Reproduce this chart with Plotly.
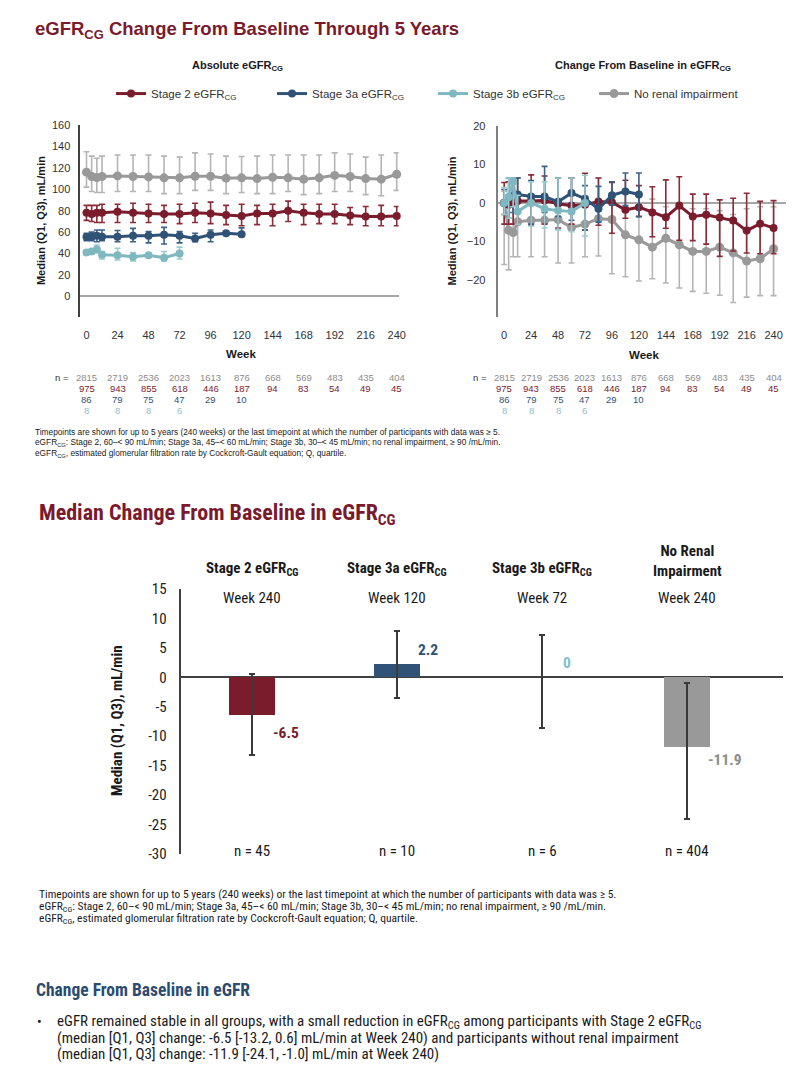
import plotly.graph_objects as go
import numpy as np

# ---------------- DATA ----------------
weeks = [0, 4, 8, 12, 24, 36, 48, 60, 72, 84, 96, 108, 120, 132, 144, 156, 168, 180, 192, 204, 216, 228, 240]
n_weeks = [0, 24, 48, 72, 96, 120, 144, 168, 192, 216, 240]
x_ticks = [0, 24, 48, 72, 96, 120, 144, 168, 192, 216, 240]

series_names = ["Stage 2 eGFR<sub>CG</sub>", "Stage 3a eGFR<sub>CG</sub>",
                "Stage 3b eGFR<sub>CG</sub>", "No renal impairment"]

# Absolute eGFRCG (median, Q1, Q3)
abs_s2_med = [78, 77, 78, 78, 79, 78, 77.5, 77, 77, 78, 77.5, 76, 75, 77.5, 77.5, 80, 78, 77, 77, 75.5, 74.5, 74.5, 75]
abs_s2_q1 = [71, 70, 69, 69, 69, 69, 69, 69, 68, 69, 68, 67, 66, 67, 66, 70, 67, 68, 68, 67, 66, 66, 66]
abs_s2_q3 = [85, 85, 85, 86, 86, 87, 86, 85, 86, 87, 88, 85, 86, 85, 86, 89, 86, 86, 86, 83, 84, 85, 84]

abs_s3a_med = [55.5, 55.7, 56.6, 55.8, 55.7, 56.6, 56.6, 57.5, 56.6, 54.1, 57.5, 59, 58.1]
abs_s3a_q1 = [52, 52, 51, 52, 51, 51, 50, 49, 50, 51, 51, 57, 56]
abs_s3a_q3 = [59, 60, 62, 62, 61.5, 63.5, 60.6, 64.5, 60.6, 59, 62, 60, 64]

abs_s3b_med = [41, 42, 43.7, 38.8, 38.5, 37, 38.5, 36.1, 40]
abs_s3b_q1 = [39, 40, 41, 35, 34, 33, 37, 33, 35]
abs_s3b_q3 = [42, 44, 48, 42, 45, 41, 40, 42, 46]

abs_nri_med = [116, 112, 111, 112, 112.5, 112, 111.6, 110.7, 110.7, 112.2, 112.2, 110.4, 110.7, 110, 111.3, 110.7, 109.5, 110.7, 113, 112, 110, 109.5, 114]
abs_nri_q1 = [102, 98, 97, 97, 98, 98, 98, 96, 96, 99, 99, 96, 97, 96, 96, 98, 95, 96, 98, 98, 95, 94, 99]
abs_nri_q3 = [135, 131, 129, 131, 132, 132, 132, 131, 130, 134, 133, 131, 130.6, 131, 132, 132, 132, 132, 134, 133, 130, 132, 134]

# Change from baseline in eGFRCG (median, Q1, Q3)
chg_s2_med = [0, -0.5, 0.3, 0.5, 0.5, 0.6, -0.2, -0.7, -0.5, 0.4, 0.2, -1.8, -1.1, -2.5, -3.7, -0.7, -3.5, -3.1, -3.8, -4.6, -7.2, -5.4, -6.5]
chg_s2_q1 = [-5.5, -5.5, -5.5, -5.5, -5.8, -5.5, -6.5, -5.5, -7, -5.8, -7.9, -4, -3.5, -8.8, -6.6, -9.7, -9.8, -10.7, -13.9, -12.5, -13, -13.2, -13.2]
chg_s2_q3 = [5.3, 5.5, 6.5, 6.5, 7.3, 7.0, 6.5, 6.5, 7.7, 6.5, 5.3, 5.9, 4.5, 4.2, 6.0, 6.8, 2.3, 2.3, 0.8, 1.2, 2.5, 0.4, 0.6]

chg_s3a_med = [0, 1.5, 2.0, 2.2, 1.7, 1.7, 0.3, 2.6, 1.1, -1.5, 2.0, 3.0, 2.2]
chg_s3a_q1 = [-3, -4, -2.5, -2, -5.5, -2.5, -3.5, -4.5, -7, -5, -0.5, -0.7, -3.6]
chg_s3a_q3 = [3.5, 6.5, 6.5, 6.5, 5.8, 9.5, 6.5, 6.5, 4.5, 4.3, 5.5, 7.8, 7.8]

chg_s3b_med = [0, 1.5, 5.5, -2.2, 0, -1.5, -2.0, -2.2, 0]
chg_s3b_q1 = [-3, -4, -1, -5.5, -6, -6.5, -7, -7.5, -8.6]
chg_s3b_q3 = [4, 6.5, 6.5, 2, 5.5, 5.5, 6.5, 6.5, 7.2]

chg_nri_med = [0, -7.1, -7.7, -4.9, -4.5, -4.5, -4.3, -6.4, -5.5, -4.1, -4.3, -8.3, -9.6, -11.5, -9.2, -10.9, -12.6, -12.6, -11.5, -13.0, -15.1, -14.5, -11.9]
chg_nri_q1 = [-16, -17.4, -14, -14, -14, -14, -15.6, -15.6, -14, -13.8, -18.4, -19.2, -20.3, -19.7, -20.8, -22.1, -23, -23.5, -24, -25.9, -24.5, -24.1, -24.1]
chg_nri_q3 = [3, 1, 1, 1.5, 0.5, 0.5, 0.5, 0, 0, 6.5, 0.5, 0, 0, 1, -1, -1.5, -1.5, -1.5, -2, -3, -1.5, -1, -1.0]

# n at risk (per 24 weeks)
n_nri = [2815, 2719, 2536, 2023, 1613, 876, 668, 569, 483, 435, 404]
n_s2 = [975, 943, 855, 618, 446, 187, 94, 83, 54, 49, 45]
n_s3a = [86, 79, 75, 47, 29, 10]
n_s3b = [8, 8, 8, 6]

# Bar chart: median change at last timepoint
bar_groups = ["Stage 2 eGFR<sub>CG</sub>", "Stage 3a eGFR<sub>CG</sub>", "Stage 3b eGFR<sub>CG</sub>", "No Renal<br>Impairment"]
bar_weeks = ["Week 240", "Week 120", "Week 72", "Week 240"]
bar_med = [-6.5, 2.2, 0, -11.9]
bar_q1 = [-13.2, -3.6, -8.6, -24.1]
bar_q3 = [0.6, 7.8, 7.2, -1.0]
bar_n = [45, 10, 6, 404]
bar_yticks = [15, 10, 5, 0, -5, -10, -15, -20, -25, -30]

# ---------------- STYLE ----------------
W, H = 811, 1078
C_S2 = "#7b1c2c"
C_S3A = "#2f5276"
C_S3B = "#7fb8c0"
C_NRI = "#999999"
C_ERR = {"s2": "#8a2c3a", "s3a": "#3b6189", "s3b": "#9ccad0", "nri": "#b5b5b5"}
TITLE_RED = "#7a1b2d"
FONT = "Liberation Sans, Arial, sans-serif"
NARROW = "Liberation Sans Narrow, Arial Narrow, Roboto Condensed, Liberation Sans, sans-serif"


def X(px):
    return px / W


def Y(py):
    return 1 - py / H


fig = go.Figure()

series = [
    ("s2", series_names[0], C_S2, weeks, abs_s2_med, abs_s2_q1, abs_s2_q3, chg_s2_med, chg_s2_q1, chg_s2_q3),
    ("s3a", series_names[1], C_S3A, weeks[:13], abs_s3a_med, abs_s3a_q1, abs_s3a_q3, chg_s3a_med, chg_s3a_q1, chg_s3a_q3),
    ("s3b", series_names[2], C_S3B, weeks[:9], abs_s3b_med, abs_s3b_q1, abs_s3b_q3, chg_s3b_med, chg_s3b_q1, chg_s3b_q3),
    ("nri", series_names[3], C_NRI, weeks, abs_nri_med, abs_nri_q1, abs_nri_q3, chg_nri_med, chg_nri_q1, chg_nri_q3),
]

draw_order = [3, 0, 1, 2]
for idx in draw_order:
    key, name, col, wk, am, aq1, aq3, cm, cq1, cq3 = series[idx]
    am, aq1, aq3 = np.array(am), np.array(aq1), np.array(aq3)
    cm, cq1, cq3 = np.array(cm), np.array(cq1), np.array(cq3)
    msize = 9 if key == "nri" else 8
    fig.add_trace(go.Scatter(
        x=wk, y=am, mode="lines+markers", name=name, legendrank=idx + 1,
        line=dict(color=col, width=3), marker=dict(color=col, size=msize),
        error_y=dict(type="data", symmetric=False, array=aq3 - am, arrayminus=am - aq1,
                     color=C_ERR[key], thickness=1.6, width=3),
        xaxis="x", yaxis="y", cliponaxis=False, showlegend=True))
    fig.add_trace(go.Scatter(
        x=wk, y=cm, mode="lines+markers", name=name,
        line=dict(color=col, width=3), marker=dict(color=col, size=msize),
        error_y=dict(type="data", symmetric=False, array=cq3 - cm, arrayminus=cm - cq1,
                     color=C_ERR[key], thickness=1.6, width=3),
        xaxis="x2", yaxis="y2", cliponaxis=False, showlegend=False))

# Bar chart
bar_x = list(range(len(bar_med)))
bm = np.array(bar_med)
fig.add_trace(go.Bar(
    x=bar_x, y=bar_med, width=0.315,
    marker=dict(color=[C_S2, C_S3A, C_S3B, C_NRI], line=dict(width=0)),
    error_y=dict(type="data", symmetric=False, array=np.array(bar_q3) - bm,
                 arrayminus=bm - np.array(bar_q1), color="#3a3a3a", thickness=2, width=3),
    xaxis="x3", yaxis="y3", showlegend=False))

# ---------------- AXES ----------------
tickfont = dict(family=FONT, size=11, color="#333333")
fig.update_layout(
    width=W, height=H, margin=dict(l=0, r=0, t=0, b=0),
    paper_bgcolor="white", plot_bgcolor="white",
    font=dict(family=FONT, color="#333333"),
    xaxis=dict(domain=[X(81), X(402)], range=[-4.8, 241.4], tickvals=x_ticks,
               showline=False, zeroline=False, showgrid=False, ticks="", tickfont=tickfont,
               ticklabelstandoff=10, anchor="y"),
    yaxis=dict(domain=[Y(313), Y(118)], range=[-19, 160], tickvals=list(range(0, 161, 20)),
               showline=True, linecolor="#404040", linewidth=1.5, showgrid=False,
               zeroline=True, zerolinecolor="#a6a6a6", zerolinewidth=1.5,
               ticks="", tickfont=tickfont, ticklabelstandoff=6, anchor="x"),
    xaxis2=dict(domain=[X(502), X(793)], range=[-5.8, 251.2], tickvals=x_ticks,
                showline=False, zeroline=False, showgrid=False, ticks="", tickfont=tickfont,
                ticklabelstandoff=10, anchor="y2"),
    yaxis2=dict(domain=[Y(313), Y(119)], range=[-29.6, 20], tickvals=[-20, -10, 0, 10, 20],
                showline=True, linecolor="#808080", linewidth=2, showgrid=False,
                zeroline=True, zerolinecolor="#a6a6a6", zerolinewidth=1.5,
                ticks="", tickfont=tickfont, ticklabelstandoff=8, anchor="x2"),
    xaxis3=dict(domain=[X(183), X(790)], range=[-0.49, 3.66], showticklabels=False,
                showline=False, zeroline=False, showgrid=False, ticks="", anchor="y3"),
    yaxis3=dict(domain=[Y(859), Y(590)], range=[-30, 15], tickvals=bar_yticks,
                ticktext=[str(v) for v in bar_yticks],
                showline=True, linecolor="#404040", linewidth=1.5, showgrid=False,
                zeroline=True, zerolinecolor="#404040", zerolinewidth=1.5,
                ticks="", tickfont=dict(family=NARROW, size=15, color="#222222"),
                ticklabelstandoff=10, anchor="x3"),
    legend=dict(orientation="h", x=X(112), y=Y(86), xanchor="left", yanchor="middle",
                font=dict(family=FONT, size=11.5, color="#333333"),
                entrywidth=116, entrywidthmode="pixels", itemwidth=30,
                bgcolor="rgba(0,0,0,0)", traceorder="normal"),
    bargap=0,
)

ann = []


def add_text(text, x, y, size, color="#333333", bold=False, family=FONT, xanchor="center",
             yanchor="middle", xref="paper", angle=0, align="center"):
    t = f"<b>{text}</b>" if bold else text
    ann.append(dict(text=t, x=x, y=y, xref=xref, yref="paper", showarrow=False,
                    font=dict(family=family, size=size, color=color), xanchor=xanchor,
                    yanchor=yanchor, textangle=angle, align=align))


# Titles
add_text("eGFR<sub>CG</sub> Change From Baseline Through 5 Years", X(33), Y(21), 18.5, TITLE_RED, True, xanchor="left")
add_text("Absolute eGFR<sub>CG</sub>", X(240), Y(58), 11, "#1a1a1a", True)
add_text("Change From Baseline in eGFR<sub>CG</sub>", X(649), Y(58), 11, "#1a1a1a", True)
add_text("Median (Q1, Q3), mL/min", X(42), Y(215), 11, "#1a1a1a", True, angle=-90)
add_text("Median (Q1, Q3), mL/min", X(456), Y(216), 11, "#1a1a1a", True, angle=-90)
add_text("Week", X(243), Y(351), 11.5, "#1a1a1a", True)
add_text("Week", X(650), Y(352), 11.5, "#1a1a1a", True)

# n tables
n_rows = [(n_nri, "#8c8c8c", 375), (n_s2, C_S2, 386), (n_s3a, C_S3A, 397.5), (n_s3b, "#8fbcd0", 408.5)]
for xref, nx in (("x", 53), ("x2", 475)):
    add_text("n =", X(nx), Y(375), 9.5, "#333333", xanchor="left")
    for vals, col, py in n_rows:
        for wk, v in zip(n_weeks, vals):
            add_text(str(v), wk, Y(py), 9.5, col, xref=xref)

# footnotes top
foot1 = ["Timepoints are shown for up to 5 years (240 weeks) or the last timepoint at which the number of participants with data was \u2265 5.",
         "eGFR<sub>CG</sub>: Stage 2, 60\u2013< 90 mL/min; Stage 3a, 45\u2013< 60 mL/min; Stage 3b, 30\u2013< 45 mL/min; no renal impairment, \u2265 90 /mL/min.",
         "eGFR<sub>CG</sub>, estimated glomerular filtration rate by Cockcroft-Gault equation; Q, quartile."]
for i, t in enumerate(foot1):
    add_text(t, X(33), Y(430 + 11 * i), 8.3, "#1a1a1a", xanchor="left")

# Bar chart title and labels
add_text("Median Change From Baseline in eGFR<sub>CG</sub>", X(37), Y(514), 22, TITLE_RED, True, family=NARROW, xanchor="left")
for i, g in enumerate(bar_groups):
    if "<br>" in g:
        add_text(g, i, Y(561), 15, "#1a1a1a", True, family=NARROW, xref="x3")
    else:
        add_text(g, i, Y(570), 15, "#1a1a1a", True, family=NARROW, xref="x3")
    add_text(bar_weeks[i], i, Y(599), 15, "#1a1a1a", family=NARROW, xref="x3")
    add_text(f"n = {bar_n[i]}", i, Y(856), 15, "#1a1a1a", family=NARROW, xref="x3")
add_text("Median (Q1, Q3), mL/min", X(118), Y(724), 15, "#1a1a1a", True, family=NARROW, angle=-90)

# value labels
y3_top, y3_bot = 590, 859


def ypx(v):
    return y3_top + (15 - v) / 45 * (y3_bot - y3_top)


lab_cols = [C_S2, C_S3A, "#7fbfcf", "#8c8c8c"]
lab_dy = [-3.0, 2.5, 2.4, -2.2]
for i, v in enumerate(bar_med):
    txt = f"{v:g}"
    add_text(txt, i + 0.13, Y(ypx(v + lab_dy[i])), 15.5, lab_cols[i], True, family=NARROW,
             xref="x3", xanchor="left")

# footnotes bottom
foot2 = ["Timepoints are shown for up to 5 years (240 weeks) or the last timepoint at which the number of participants with data was \u2265 5.",
         "eGFR<sub>CG</sub>: Stage 2, 60\u2013< 90 mL/min; Stage 3a, 45\u2013< 60 mL/min; Stage 3b, 30\u2013< 45 mL/min; no renal impairment, \u2265 90 /mL/min.",
         "eGFR<sub>CG</sub>, estimated glomerular filtration rate by Cockcroft-Gault equation; Q, quartile."]
for i, t in enumerate(foot2):
    add_text(t, X(37), Y(900 + 12.5 * i), 11.5, "#1a1a1a", family=NARROW, xanchor="left")

add_text("Change From Baseline in eGFR", X(34), Y(998), 17.5, "#2b4c70", True, family=NARROW, xanchor="left")
add_text("\u2022", X(35), Y(1030), 14, "#1a1a1a", family=NARROW, xanchor="left")
bullet = ["eGFR remained stable in all groups, with a small reduction in eGFR<sub>CG</sub> among participants with Stage 2 eGFR<sub>CG</sub>",
          "(median [Q1, Q3] change: -6.5 [-13.2, 0.6] mL/min at Week 240) and participants without renal impairment",
          "(median [Q1, Q3] change: -11.9 [-24.1, -1.0] mL/min at Week 240)"]
for i, t in enumerate(bullet):
    add_text(t, X(55), Y(1030 + 16.3 * i), 15, "#1a1a1a", family=NARROW, xanchor="left")

fig.update_layout(annotations=ann)

page_fix = (
    "document.documentElement.style.margin='0';"
    "document.documentElement.style.padding='0';"
    "document.documentElement.style.overflow='hidden';"
    "document.documentElement.style.width='811px';"
    "document.documentElement.style.height='1078px';"
    "document.body.style.margin='0';"
    "document.body.style.padding='0';"
    "document.body.style.overflow='hidden';"
    "document.body.style.width='811px';"
    "document.body.style.height='1078px';"
    "var gd=document.getElementById('{plot_id}');"
    "gd.style.position='fixed';gd.style.left='0px';gd.style.top='0px';"
)
fig.write_html("out.html", config={"displayModeBar": False}, post_script=page_fix)
